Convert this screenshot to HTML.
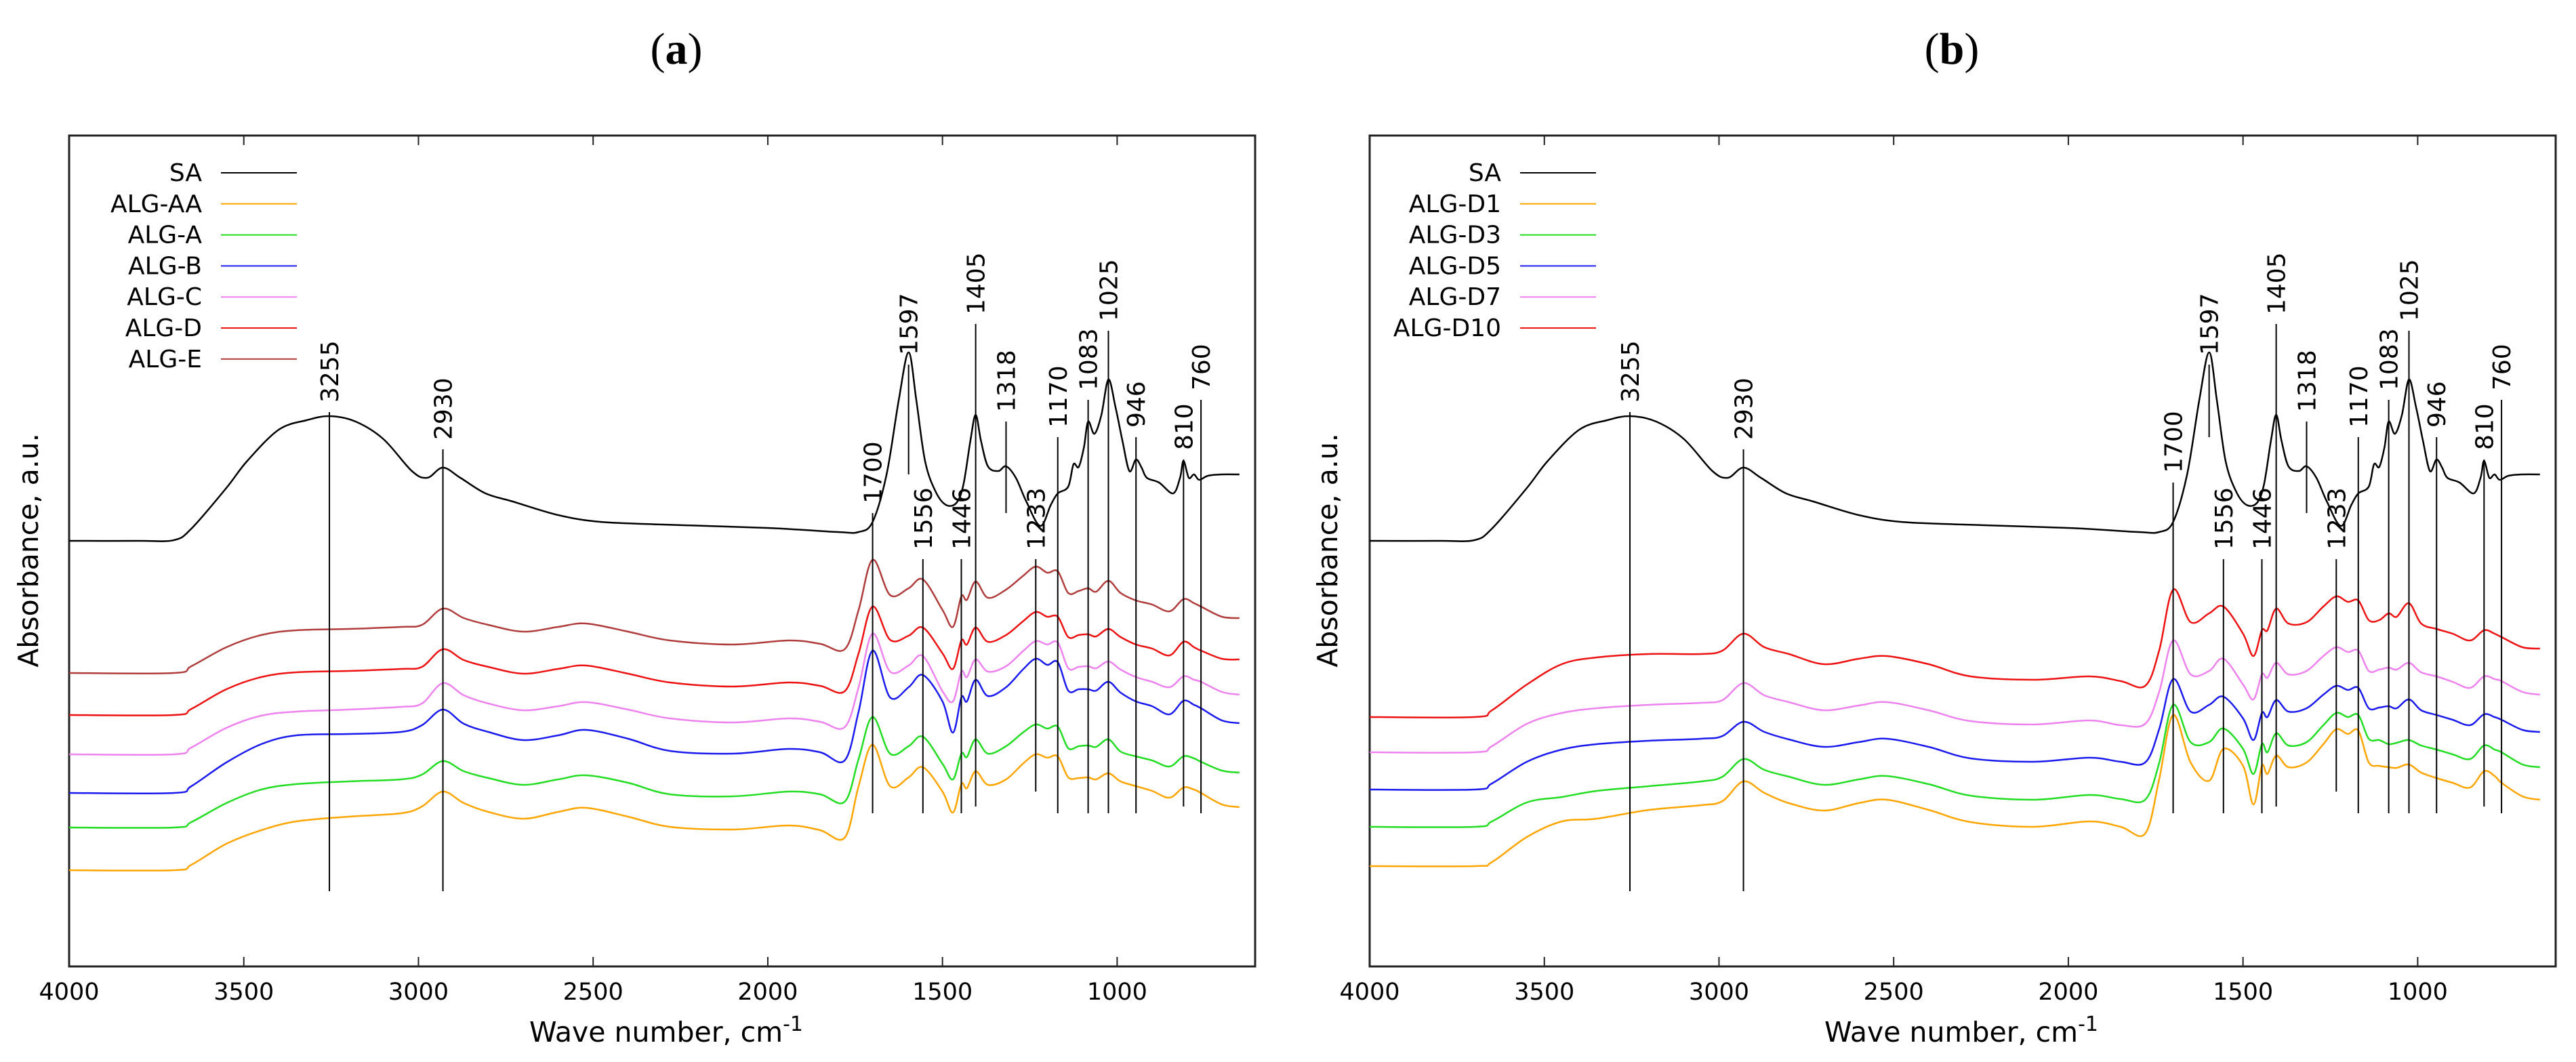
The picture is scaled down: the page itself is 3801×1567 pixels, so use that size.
<!DOCTYPE html>
<html><head><meta charset="utf-8"><style>
html,body{margin:0;padding:0;background:#fff;}
svg{display:block;font-family:"DejaVu Sans","Liberation Sans",sans-serif;}
</style></head><body>
<svg id="chart" width="3801" height="1567" viewBox="0 0 3801 1567" xmlns="http://www.w3.org/2000/svg"></svg>
<script>
// ---- data ----
const wn = [4000,3700,3650,3550,3450,3350,3200,3050,2990,2930,2870,2800,2700,2600,2520,2400,2280,2100,1940,1850,1780,1740,1700,1650,1597,1556,1500,1470,1446,1430,1405,1370,1318,1270,1233,1200,1170,1140,1110,1083,1060,1025,990,946,900,850,810,780,760,700,650];
const saWn = [4000,3800,3700,3650,3550,3490,3400,3320,3255,3180,3100,3019,2975,2930,2880,2808,2730,2600,2480,2300,2000,1800,1740,1700,1660,1625,1597,1575,1550,1520,1490,1460,1440,1420,1405,1390,1370,1340,1318,1290,1260,1220,1190,1170,1140,1125,1110,1095,1083,1065,1045,1025,1005,985,965,946,930,915,880,840,820,810,795,780,765,740,700,650];
const saAbs = [62.8,62.8,62.9,64.6,70.6,74.6,79.2,80.6,81.2,80.4,77.8,73.1,72.1,73.6,72.1,69.8,68.6,66.6,65.6,65.2,64.7,64.1,64.1,65.6,72.6,83.6,90.6,83.6,74.6,70.1,68.1,68.4,71.1,77.6,81.4,77.6,73.8,73.1,73.8,72.1,68.6,65.0,68.1,69.8,70.8,74.1,73.7,76.6,80.4,78.6,81.4,86.6,82.6,77.6,73.1,74.8,73.6,72.1,71.4,69.8,72.1,74.6,72.1,72.6,71.8,72.4,72.6,72.6];
// panel a
const algE = [43.3,43.3,44.3,47.1,48.9,49.6,49.8,50.1,50.4,52.8,51.4,50.4,49.4,50.1,50.6,49.4,48.1,47.5,48.1,47.6,46.8,52.6,60.0,54.8,55.8,57.1,52.6,50.1,54.6,54.1,56.8,54.4,55.6,57.6,59.0,58.1,58.3,55.1,55.4,55.8,55.3,56.9,55.1,54.0,53.4,52.4,54.2,53.6,53.1,51.6,51.4];
const algD = [37.1,37.1,38.0,40.9,42.7,43.4,43.6,43.9,44.2,46.8,45.2,44.2,43.2,43.9,44.4,43.2,41.9,41.3,41.9,41.4,40.6,46.2,53.1,48.2,48.8,50.0,46.2,43.9,48.1,47.5,50.0,47.9,48.9,50.9,52.3,51.6,51.6,48.6,48.9,49.0,48.7,49.8,48.6,47.5,46.9,45.9,47.9,47.1,46.6,45.4,45.3];
const algC = [31.3,31.3,32.3,35.2,37.0,37.6,37.9,38.3,38.8,41.8,40.0,38.8,37.8,38.4,39.0,37.9,36.6,36.0,36.6,36.1,35.3,41.2,49.1,43.5,44.4,45.8,40.6,39.1,43.5,42.7,45.3,43.5,44.3,46.5,48.0,47.5,47.8,44.0,44.2,44.3,44.0,45.0,43.8,42.7,42.0,41.2,42.8,42.3,42.0,40.5,40.1];
const algB = [25.6,25.6,26.6,30.1,32.8,34.1,34.3,34.6,35.6,37.9,35.8,34.6,33.4,34.1,34.9,33.6,31.8,31.4,32.1,31.6,30.4,37.6,46.6,39.7,41.2,43.0,39.1,34.5,39.7,39.1,42.3,39.9,41.2,43.8,45.4,44.5,44.9,40.7,40.9,40.9,40.7,42.0,40.4,39.1,38.4,37.2,39.2,38.6,38.1,36.3,35.9];
const algA = [20.5,20.5,21.3,24.1,26.1,26.9,27.3,27.6,28.3,30.3,28.8,27.8,26.8,27.6,28.2,27.1,25.4,25.1,25.8,25.4,24.3,30.6,36.8,31.4,32.5,33.9,29.9,27.6,31.4,30.9,33.5,31.4,32.5,34.5,35.7,35.1,35.4,32.2,32.5,32.6,32.4,33.5,31.7,31.0,30.4,29.5,31.0,30.7,30.2,28.9,28.6];
const algAA = [14.2,14.2,15.0,18.1,20.1,21.4,22.1,22.6,23.6,25.8,24.1,22.8,21.8,22.8,23.4,22.1,20.6,20.2,20.8,20.1,19.0,26.6,32.7,26.6,27.9,29.4,25.8,22.7,26.9,26.3,28.8,26.8,27.6,29.9,31.3,30.8,31.0,27.9,27.8,27.9,27.6,28.5,27.3,26.6,25.9,24.9,26.4,26.1,25.6,23.9,23.5];
// panel b
const algD10 = [36.8,36.8,37.8,41.6,44.6,45.6,46.1,46.1,46.6,49.1,47.1,46.1,44.6,45.4,45.8,44.6,42.8,42.3,42.8,42.1,41.4,46.6,55.6,50.8,52.1,53.1,49.1,45.8,49.6,49.6,52.8,50.6,50.8,53.1,54.6,53.8,54.0,51.1,51.1,52.1,51.6,53.6,50.6,49.8,49.1,48.1,49.6,49.1,48.6,47.1,46.9];
const algD7 = [31.6,31.6,32.5,35.8,37.4,38.1,38.6,38.9,39.3,41.8,40.0,39.0,37.8,38.5,39.0,37.8,36.2,35.7,36.3,35.6,35.8,40.5,48.1,43.1,43.6,45.4,41.6,39.4,43.1,42.6,44.8,43.1,43.6,45.8,47.1,46.4,46.6,43.6,43.8,44.1,43.8,44.8,43.4,42.8,42.0,41.1,42.8,42.4,42.1,40.5,40.1];
const algD5 = [26.1,26.1,27.0,30.2,32.0,32.8,33.3,33.6,34.0,36.1,34.6,33.5,32.4,33.1,33.6,32.4,30.7,30.2,30.8,30.2,30.1,35.0,42.4,37.6,38.6,39.8,36.6,33.4,37.4,36.8,39.3,37.6,38.1,40.1,41.4,40.8,41.1,38.1,38.2,38.4,38.1,39.4,37.8,37.1,36.4,35.6,37.2,36.8,36.4,34.9,34.6];
const algD3 = [20.6,20.6,21.4,24.2,25.0,25.9,26.6,27.3,28.0,30.6,29.0,28.0,26.8,27.6,28.1,26.9,25.2,24.6,25.3,24.7,24.6,30.0,38.6,33.1,33.1,35.1,32.1,28.4,32.8,31.6,34.4,32.6,33.1,35.6,37.4,36.8,37.1,33.6,33.4,32.8,33.0,33.4,32.6,32.0,31.3,30.6,32.6,32.0,31.6,29.8,29.4];
const algD1 = [14.8,14.8,15.4,19.1,21.4,21.8,23.1,23.8,24.4,27.3,25.6,24.1,23.0,24.1,24.6,23.1,21.3,20.6,21.4,20.6,19.6,27.6,37.1,30.1,27.4,32.1,29.6,23.9,29.6,28.4,31.1,29.4,30.1,32.8,35.0,34.3,34.8,30.1,29.6,29.4,29.3,29.8,28.6,27.8,27.1,26.4,28.8,28.1,27.1,25.1,24.6];
// peak markers
const peakWn = [3255,2930,1700,1597,1556,1446,1405,1318,1233,1170,1083,1025,946,810,760];
const peakTopA = [81.8,76.3,66.9,88.8,60.1,60.1,94.8,80.4,60.1,78.1,83.6,93.8,78.1,74.8,83.6];
const peakBotA = [11.1,11.1,22.6,72.6,22.6,22.6,23.6,66.9,25.8,22.6,22.6,22.6,22.6,23.6,22.6];
const peakTopB = [81.8,76.3,71.4,88.8,60.1,60.1,94.8,80.4,60.1,78.1,83.6,93.8,78.1,74.8,83.6];
const peakBotB = [11.1,11.1,22.6,78.1,22.6,22.6,23.6,66.9,25.8,22.6,22.6,22.6,22.6,23.6,22.6];
const xTicks = [4000,3500,3000,2500,2000,1500,1000];
const legendA = ["SA","ALG-AA","ALG-A","ALG-B","ALG-C","ALG-D","ALG-E"];
const legendB = ["SA","ALG-D1","ALG-D3","ALG-D5","ALG-D7","ALG-D10"];
const colors = {sa:"#000000",orange:"#ffa500",green:"#22dd22",blue:"#1a1aee",violet:"#ee82ee",red:"#ee1111",brown:"#b03c3c"};

const NS = "http://www.w3.org/2000/svg";
const svg = document.getElementById("chart");
function mk(tag, parent, attrs){ const e=document.createElementNS(NS,tag); for(const k in attrs) e.setAttribute(k,attrs[k]); parent.appendChild(e); return e; }

function smoothPath(pts){
  let d="M"+pts[0][0].toFixed(1)+","+pts[0][1].toFixed(1);
  for(let i=0;i<pts.length-1;i++){
    const p0=pts[Math.max(0,i-1)], p1=pts[i], p2=pts[i+1], p3=pts[Math.min(pts.length-1,i+2)];
    const c1x=p1[0]+(p2[0]-p0[0])/6, c1y=p1[1]+(p2[1]-p0[1])/6;
    const c2x=p2[0]-(p3[0]-p1[0])/6, c2y=p2[1]-(p3[1]-p1[1])/6;
    d+=" C"+c1x.toFixed(1)+","+c1y.toFixed(1)+" "+c2x.toFixed(1)+","+c2y.toFixed(1)+" "+p2[0].toFixed(1)+","+p2[1].toFixed(1);
  }
  return d;
}

function panel(cfg){
  const L=cfg.left, R=cfg.left+1750, T=200, B=1426;
  const xs = w => L + (4000-w)/(4000-605)*(R-L);
  const ys = v => B - v*10;
  const g = mk("g", svg, {});
  
  

  const title = mk("text", g, {x:cfg.titleX, y:94, "text-anchor":"middle", "font-family":"Liberation Serif, serif", "font-size":"66"});
  
  
  title.innerHTML = '(<tspan font-weight="bold">'+cfg.letter+'</tspan>)';

  const frame = mk("rect", g, {x:L, y:T, width:R-L, height:B-T, fill:"none", stroke:"#222", "stroke-width":3});
  
  

  xTicks.forEach(t=>{
    const x=xs(t);
    if (t!==4000){
      const tk=mk("line", g, {x1:x,x2:x,y1:B,y2:B-14,stroke:"#222","stroke-width":2});
      
      
      const tk2=mk("line", g, {x1:x,x2:x,y1:T,y2:T+14,stroke:"#222","stroke-width":2});
      
      
    }
    const lb=mk("text", g, {x:x, y:1475, "text-anchor":"middle", "font-size":"35"});
    
    
    lb.textContent=t;
  });

  const xt=mk("text", g, {x:cfg.xTitleX, y:1537, "text-anchor":"middle", "font-size":"41"});
  
  
  xt.innerHTML='Wave number, cm<tspan dy="-16" font-size="30">-1</tspan>';

  const yt=mk("text", g, {x:0, y:0, "text-anchor":"middle", "font-size":"41", transform:"translate("+cfg.yTitleX+",812) rotate(-90)"});
  
  
  yt.textContent='Absorbance, a.u.';

  cfg.series.forEach(s=>{
    const n=Math.min(s.wn.length, s.vals.length);
    const pts=[]; for(let i=0;i<n;i++) pts.push([xs(s.wn[i]), ys(s.vals[i])]);
    const p=mk("path", g, {d:smoothPath(pts), fill:"none", stroke:s.color, "stroke-width":2.5, "stroke-linejoin":"round"});
    
    
  });

  peakWn.forEach((w,i)=>{
    const x=xs(w), yt0=ys(cfg.peakTop[i]), yb=ys(cfg.peakBot[i]);
    const ln=mk("line", g, {x1:x,x2:x,y1:yt0,y2:yb,stroke:"#000","stroke-width":2});
    
    
    const tx=mk("text", g, {x:0,y:0,"font-size":"36",transform:"translate("+(x+13)+","+(yt0-14)+") rotate(-90)"});
    
    
    tx.textContent=w;
  });

  cfg.legend.forEach((name,i)=>{
    const y=255+i*45.8;
    const t=mk("text", g, {x:cfg.legTextX, y:y+12, "text-anchor":"end", "font-size":"36"});
    
    
    t.textContent=name;
    const l=mk("line", g, {x1:cfg.legTextX+28, x2:cfg.legTextX+140, y1:y, y2:y, stroke:cfg.legColors[i], "stroke-width":2});
    
    
  });
}

panel({id:"a", letter:"a", left:102, titleX:998, xTitleX:983, yTitleX:56, legTextX:298,
  peakTop:peakTopA, peakBot:peakBotA, legend:legendA,
  legColors:[colors.sa,colors.orange,colors.green,colors.blue,colors.violet,colors.red,colors.brown],
  series:[
    {name:"SA", wn:saWn, vals:saAbs, color:colors.sa},
    {name:"ALG-E", wn:wn, vals:algE, color:colors.brown},
    {name:"ALG-D", wn:wn, vals:algD, color:colors.red},
    {name:"ALG-C", wn:wn, vals:algC, color:colors.violet},
    {name:"ALG-B", wn:wn, vals:algB, color:colors.blue},
    {name:"ALG-A", wn:wn, vals:algA, color:colors.green},
    {name:"ALG-AA", wn:wn, vals:algAA, color:colors.orange}
  ]});
panel({id:"b", letter:"b", left:2021, titleX:2880, xTitleX:2894, yTitleX:1973, legTextX:2215,
  peakTop:peakTopB, peakBot:peakBotB, legend:legendB,
  legColors:[colors.sa,colors.orange,colors.green,colors.blue,colors.violet,colors.red],
  series:[
    {name:"SA-b", wn:saWn, vals:saAbs, color:colors.sa},
    {name:"ALG-D10", wn:wn, vals:algD10, color:colors.red},
    {name:"ALG-D7", wn:wn, vals:algD7, color:colors.violet},
    {name:"ALG-D5", wn:wn, vals:algD5, color:colors.blue},
    {name:"ALG-D3", wn:wn, vals:algD3, color:colors.green},
    {name:"ALG-D1", wn:wn, vals:algD1, color:colors.orange}
  ]});
</script>
</body></html>
